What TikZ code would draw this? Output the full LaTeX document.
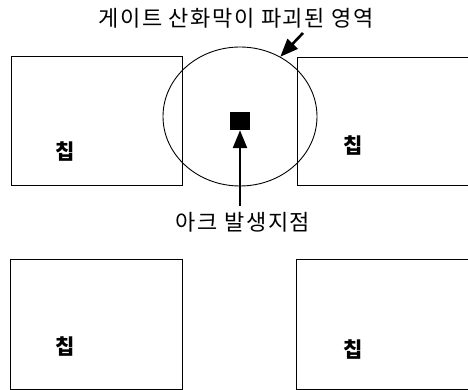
\documentclass[tikz,border=0pt]{standalone}
\usepackage{fontspec}
\setmainfont{Noto Sans CJK KR}
\usetikzlibrary{arrows.meta,shapes.geometric}
\begin{document}
\begin{tikzpicture}[x=1pt,y=-1pt,
  chip/.style={draw,line width=0.9pt,rectangle,inner sep=0pt},
  lbl/.style={font=\fontsize{22}{24}\selectfont\addfontfeature{LetterSpace=7}},
  chiptxt/.style={font=\fontsize{21}{23}\selectfont\bfseries},
  bigarrow/.style={line width=2.6pt,-{Triangle[length=18pt,width=14pt]}}]
\useasboundingbox (0,0) rectangle (468,390);
\clip (0,0) rectangle (468,390);
% chips
\node[chip,minimum width=171pt,minimum height=129pt] (c1) at (96.5,120.5) {};
\node[chip,minimum width=180pt,minimum height=128pt] (c2) at (387,121) {};
\node[chip,minimum width=172pt,minimum height=130pt] (c3) at (96,324) {};
\node[chip,minimum width=180pt,minimum height=130pt] (c4) at (386,324) {};
\node[chiptxt] (t1) at (65,152) {칩};
\node[chiptxt] (t2) at (353,146) {칩};
\node[chiptxt] (t3) at (65,347) {칩};
\node[chiptxt] (t4) at (353,350) {칩};
% damaged region
\node[draw,line width=0.9pt,ellipse,minimum width=154pt,minimum height=139pt,inner sep=0pt] (reg) at (240,116.5) {};
\node[fill=black,minimum width=20pt,minimum height=18pt,inner sep=0pt] (arc) at (240,121) {};
% labels
\node[lbl] (title) at (236,18) {게이트 산화막이 파괴된 영역};
\node[lbl] (arclbl) at (243,222) {아크 발생지점};
\coordinate (a0) at (303,33);
\coordinate (a1) at (240,206);
\draw[bigarrow] (a0) -- (reg.56);
\draw[bigarrow] (a1) -- (arc.south);
\end{tikzpicture}
\end{document}
